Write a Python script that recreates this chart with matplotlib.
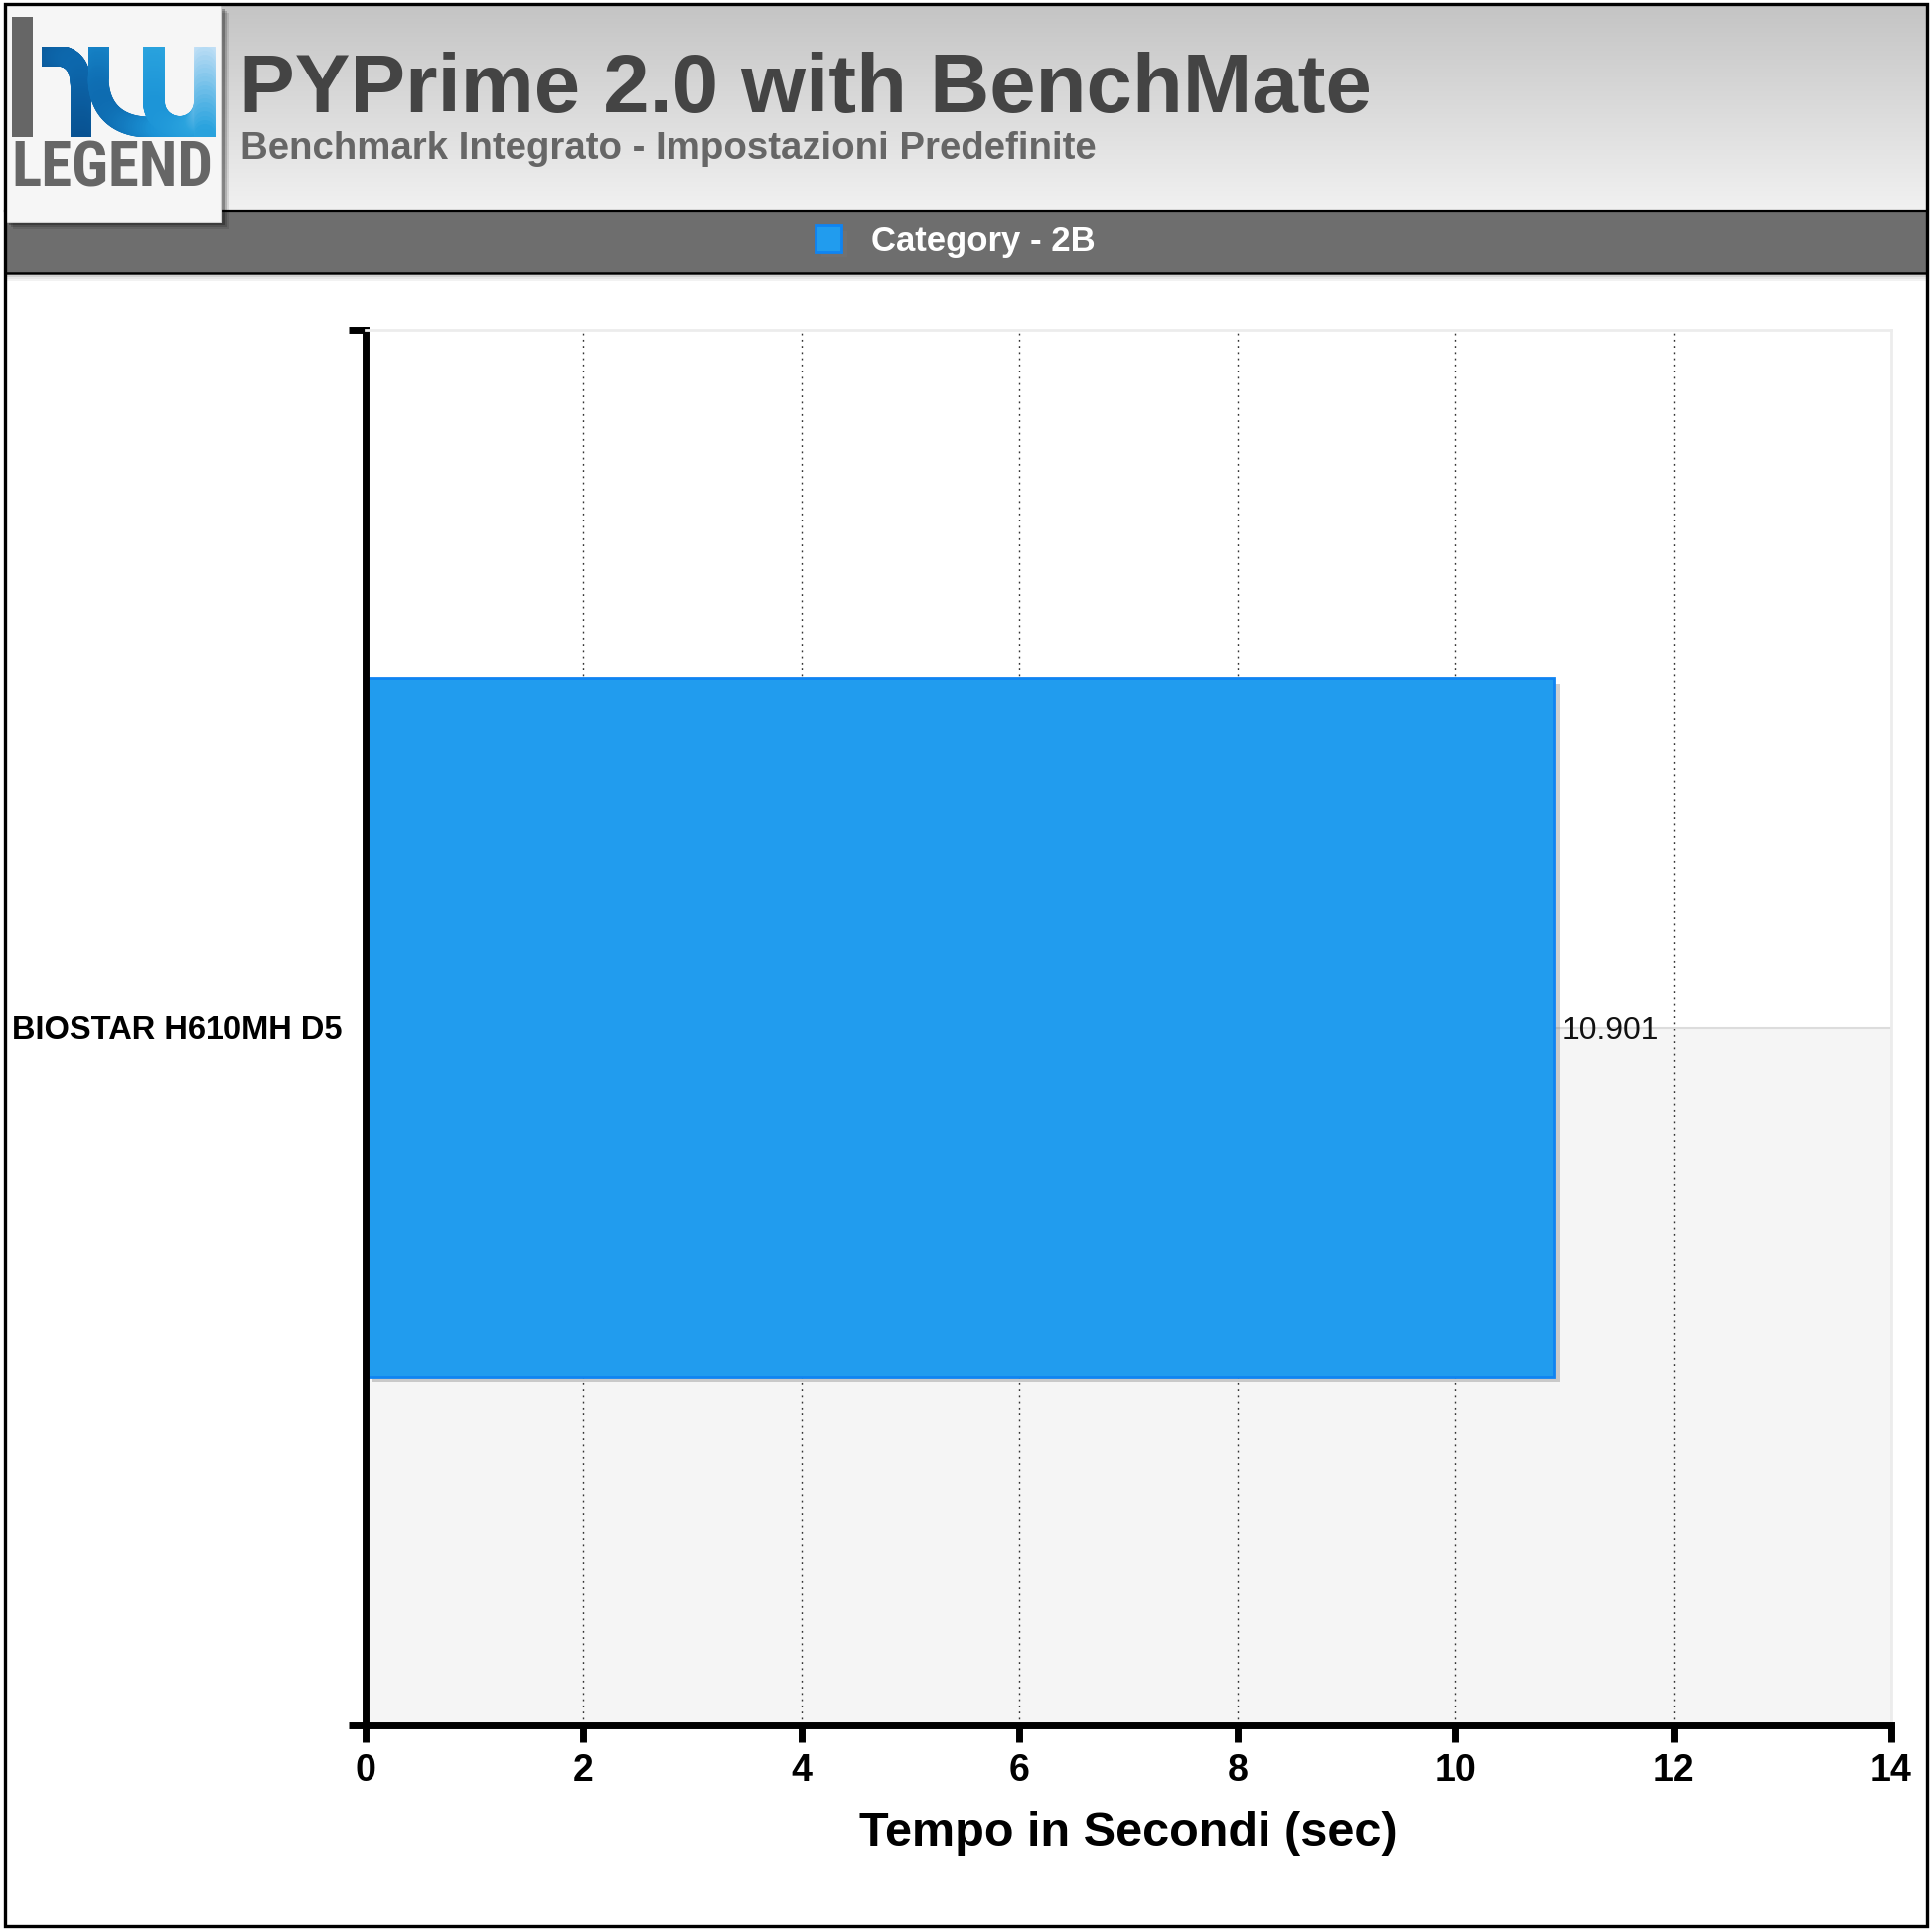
import numpy as np
import matplotlib
matplotlib.use("Agg")
import matplotlib.pyplot as plt
from matplotlib.patches import Rectangle
from matplotlib.collections import LineCollection
from matplotlib.colors import LinearSegmentedColormap
from matplotlib.font_manager import FontProperties, fontManager
import matplotlib.patheffects as pe

# ---------------- data ----------------
title = "PYPrime 2.0 with BenchMate"
subtitle = "Benchmark Integrato - Impostazioni Predefinite"
series_name = "Category - 2B"
categories = ["BIOSTAR H610MH D5"]
values = [10.901]
xticks = [0, 2, 4, 6, 8, 10, 12, 14]
xlabel = "Tempo in Secondi (sec)"

# ---------------- figure ----------------
plt.rcParams['font.family'] = ['Liberation Sans', 'DejaVu Sans']
W, H = 1945, 1943
fig = plt.figure(figsize=(W / 100, H / 100), dpi=100)
fig.patch.set_facecolor("white")


def fx(px):
    return px / W


def fy(py):
    return 1 - py / H


# background / decoration axes in pixel coordinates
bg = fig.add_axes([0, 0, 1, 1])
bg.set_zorder(-1)
bg.axis("off")

# header gradient
hcm = LinearSegmentedColormap.from_list("hdr", ["#c4c4c4", "#f1f1f1"])
grad = np.linspace(0, 1, 256).reshape(-1, 1)
bg.imshow(grad, extent=(5, 1940, 211, 5), aspect="auto", cmap=hcm, zorder=1)

# legend band
bg.add_patch(Rectangle((5, 212), 1935, 63, facecolor="#6e6e6e", edgecolor="none", zorder=2))
bg.plot([5, 1940], [212, 212], color="black", lw=1.6, zorder=3)
bg.plot([5, 1940], [275, 275], color="black", lw=1.8, zorder=3)
for k, a in enumerate([0.18, 0.10, 0.05]):
    bg.plot([5, 1940], [278 + 2 * k, 278 + 2 * k], color="black", alpha=a, lw=1.4, zorder=2)

# logo box with shadow
for k, a in enumerate([0.10, 0.16, 0.26]):
    off = 8 - 2 * k
    bg.add_patch(Rectangle((5 + off, 5 + off), 218, 218, facecolor="black", alpha=a,
                           edgecolor="none", zorder=4))
bg.add_patch(Rectangle((4, 4), 218, 219, facecolor="#f6f6f6", edgecolor="#d0d0d0", lw=0.8, zorder=5))
bg.add_patch(Rectangle((12, 17), 21, 121, facecolor="#666666", edgecolor="none", zorder=6))


def bezier(p0, p1, p2, p3, n=40):
    t = np.linspace(0, 1, n)[:, None]
    p0, p1, p2, p3 = map(np.array, (p0, p1, p2, p3))
    return (1 - t) ** 3 * p0 + 3 * (1 - t) ** 2 * t * p1 + 3 * (1 - t) * t ** 2 * p2 + t ** 3 * p3


def vline(x, y0, y1, n=25):
    return np.column_stack([np.full(n, float(x)), np.linspace(y0, y1, n)])


lcm = LinearSegmentedColormap.from_list(
    "logo", [(0.0, "#08508f"), (0.25, "#0d68ad"), (0.5, "#1b93d6"), (0.7, "#2aa3de"), (1.0, "#d2e6f8")])
# shoulder + leg of the "h"
sA = np.vstack([np.column_stack([np.linspace(36, 56, 15), np.full(15, 56.0)]),
                bezier((56, 56), (72, 56), (81, 66), (81, 84)),
                vline(81, 84, 145)])
# middle stroke of the "w"
sB = np.vstack([vline(99, 40, 78),
                bezier((99, 78), (99, 112), (120, 128), (150, 128)),
                np.column_stack([np.linspace(150, 175, 10), np.full(10, 128.0)])])
# the "u"
tt = np.linspace(0, np.pi / 2, 30)
sC = np.vstack([vline(155, 40, 103),
                np.column_stack([181 - 26 * np.cos(tt), 103 + 25 * np.sin(tt)]),
                np.column_stack([181 + 14 * np.sin(tt), 128 - 10 * np.cos(tt) * 0 + 0 * tt]),
                ])
sD = vline(206, 40, 145)
sE = np.vstack([np.column_stack([181 + 0 * tt, 128 + 0 * tt]),
                np.column_stack([181 + 25 * np.sin(tt), 128 - 25 * (1 - np.cos(tt))])])
clip = Rectangle((42, 47), 180, 91, transform=bg.transData)
for pts, wpx in [(sA, 21), (sB, 21), (sC, 22), (sE, 22), (sD, 22)]:
    segs = np.stack([pts[:-1], pts[1:]], axis=1)
    mx = segs[:, :, 0].mean(axis=1)
    my = segs[:, :, 1].mean(axis=1)
    cols = lcm(np.clip((mx - 0.6 * my + 10) / 190, 0, 1))
    lc = LineCollection(segs, colors=cols, linewidths=wpx * 0.72, capstyle="round", zorder=7)
    bg.add_collection(lc)
    lc.set_clip_path(clip)

names = {f.name for f in fontManager.ttflist}
lfp = None
for cand in ["Liberation Sans Narrow", "Roboto Condensed", "Open Sans Condensed"]:
    if cand in names:
        lfp = FontProperties(family=cand, weight="bold", size=44)
        break
if lfp is None:
    lfp = FontProperties(family="DejaVu Sans", weight="bold", stretch="condensed", size=40)
logo_txt = bg.text(113, 171, "LEGEND", ha="center", va="center", color="#666666",
                   fontproperties=lfp, zorder=8)

# outer frame
bg.add_patch(Rectangle((5, 4), 1935, 1935, fill=False, edgecolor="black", lw=2.4, zorder=10))
bg.set_xlim(0, W)
bg.set_ylim(H, 0)

# titles
fig.text(fx(241), fy(113), title, fontsize=60, fontweight="bold", color="#444444", va="baseline")
fig.text(fx(242), fy(160), subtitle, fontsize=27.6, fontweight="bold", color="#666666", va="baseline")

# ---------------- main axes ----------------
L, R, T, B = 368, 1904, 332, 1737
ax = fig.add_axes([fx(L), fy(B), (R - L) / W, (B - T) / H])
ax.set_facecolor("white")
ypos = np.arange(len(categories))
ax.set_xlim(xticks[0], xticks[-1])
ax.set_ylim(-0.5, len(categories) - 0.5)

for y in ypos:
    ax.axhspan(y - 0.5, y, color="#f5f5f5", zorder=0, lw=0)
    ax.axhline(y, color="#dcdcdc", lw=1.5, zorder=0.6)

ax.set_axisbelow(True)
ax.xaxis.grid(True, color="#333333", lw=1.0, linestyle=(0, (1.3, 3.2)))

bars = ax.barh(ypos, values, height=0.5, color="#219cee", edgecolor="#0f84f2", linewidth=2.0,
               label=series_name, zorder=2,
               path_effects=[pe.SimplePatchShadow(offset=(4, -4), shadow_rgbFace="#777777", alpha=0.35),
                             pe.Normal()])

for y, v in zip(ypos, values):
    ax.annotate(f"{v:.3f}", xy=(v, y), xytext=(6, 0), textcoords="offset points",
                ha="left", va="center_baseline", fontsize=23, color="#111111", zorder=5)

ax.set_xticks(xticks, labels=[str(x) for x in xticks], fontsize=27, fontweight="bold")
ax.set_yticks(ypos, labels=categories, fontsize=23.5, fontweight="bold")
ax.set_yticks(np.concatenate([ypos - 0.5, [ypos[-1] + 0.5]]), minor=True)
ax.tick_params(axis="y", which="major", length=0, pad=17)
ax.tick_params(axis="y", which="minor", length=12.5, width=5, color="black")
ax.tick_params(axis="x", which="major", length=12, width=5, color="black", pad=8.5)

for side in ("left", "bottom"):
    ax.spines[side].set_linewidth(5)
    ax.spines[side].set_color("black")
for side in ("top", "right"):
    ax.spines[side].set_linewidth(2)
    ax.spines[side].set_color("#ececec")

ax.set_xlabel(xlabel, fontsize=35, fontweight="bold")
ax.xaxis.set_label_coords(0.5, -(1845 - B) / (B - T))
ax.xaxis.label.set_va("center")

gls = ax.get_xgridlines()
gls[0].set_visible(False)
gls[-1].set_visible(False)

# legend in the dark band
fig.legend(handles=[bars], labels=[series_name], loc="center",
           bbox_to_anchor=(fx(962), fy(243)), frameon=False,
           prop=dict(weight="bold", size=25), labelcolor="white",
           handlelength=0.75, handleheight=0.8, handletextpad=0.85, borderpad=0)

# fit the logo word to its box width
fig.canvas.draw()
bb = logo_txt.get_window_extent()
logo_txt.set_fontsize(lfp.get_size() * 203 / bb.width)

fig.savefig("out.png", dpi=100, facecolor="white")
